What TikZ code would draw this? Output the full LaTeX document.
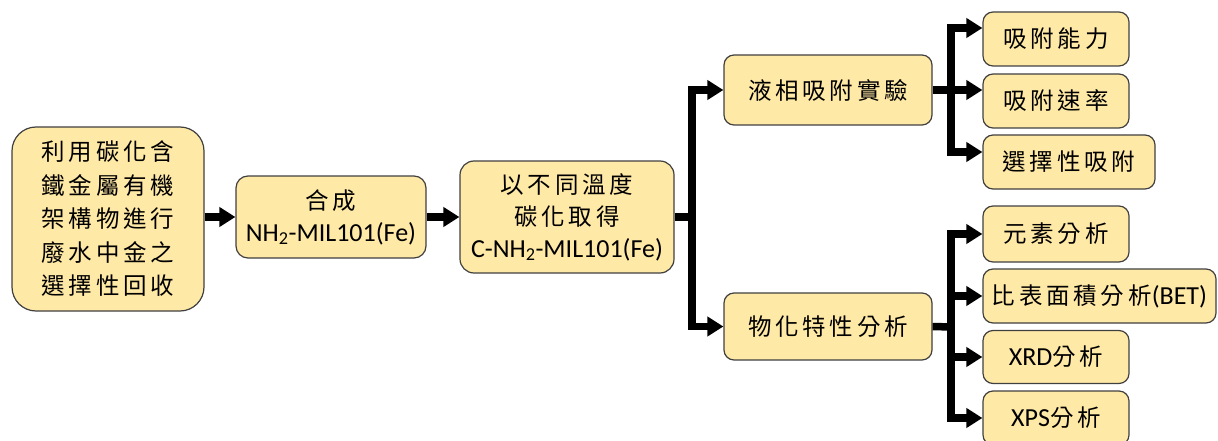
\documentclass[tikz,border=0pt]{standalone}
\usepackage{fontspec}
\setmainfont{Carlito}
\newfontfamily\cjk[LetterSpace=16]{Noto Sans CJK TC}
\usetikzlibrary{arrows.meta}
\definecolor{boxfill}{RGB}{255,233,166}
\definecolor{boxline}{RGB}{64,64,64}
\newcommand\latn[1]{{\rmfamily\fontsize{26}{32}\selectfont #1}}
\begin{document}
\begin{tikzpicture}[x=1pt,y=-1pt,
  box/.style={draw=boxline, line width=1.2pt, fill=boxfill, rounded corners=10pt,
    align=center, inner sep=0pt, font=\cjk\fontsize{23.5}{32}\selectfont},
  conn/.style={line width=7.5pt, -{Triangle[length=16pt,width=19pt]}},
  plainline/.style={line width=7.5pt}]
\useasboundingbox (0,0) rectangle (1218,441);
\clip (0,0) rectangle (1218,441);

\node[box, rounded corners=24pt, minimum width=192pt, minimum height=184pt,
  font=\cjk\fontsize{23.5}{33.5}\selectfont] (n1) at (108,219)
  {利用碳化含\\鐵金屬有機\\架構物進行\\廢水中金之\\選擇性回收};
\node[box, rounded corners=12pt, minimum width=190pt, minimum height=82pt] (n2) at (331,217)
  {合成\\\latn{NH\textsubscript{2}-MIL101(Fe)}};
\node[box, rounded corners=14pt, minimum width=214pt, minimum height=112pt] (n3) at (567,217)
  {以不同溫度\\碳化取得\\\latn{C-NH\textsubscript{2}-MIL101(Fe)}};
\node[box, minimum width=208pt, minimum height=70pt] (a) at (828,90) {液相吸附實驗};
\node[box, minimum width=208pt, minimum height=67pt] (b) at (828,326.5) {物化特性分析};

\node[box, minimum width=146pt, minimum height=54pt] (r1) at (1056,39) {吸附能力};
\node[box, minimum width=146pt, minimum height=54pt] (r2) at (1056,101) {吸附速率};
\node[box, minimum width=172pt, minimum height=54pt] (r3) at (1069,162) {選擇性吸附};
\node[box, minimum width=146pt, minimum height=56pt] (r4) at (1056,234) {元素分析};
\node[box, minimum width=233pt, minimum height=54pt] (r5) at (1099.5,296) {比表面積分析\latn{(BET)}};
\node[box, minimum width=146pt, minimum height=53pt] (r6) at (1056,357) {\latn{XRD}分析};
\node[box, minimum width=146pt, minimum height=54pt] (r7) at (1056,418) {\latn{XPS}分析};

\coordinate (j1) at (692,217);
\coordinate (j2) at (951,90);
\coordinate (j3) at (951,327);

\draw[conn] (n1.east |- n2.west) -- (n2.west);
\draw[conn] (n2.east) -- (n3.west);
\draw[plainline] (n3.east) -- (j1);
\draw[conn] (j1) |- (a.west);
\draw[conn] (j1) |- (b.west);

\draw[plainline] (a.east) -- (j2);
\draw[conn] (j2) |- ([yshift=11pt]r1.west);
\draw[conn] (j2) |- ([yshift=11pt]r2.west);
\draw[conn] (j2) |- ([yshift=10pt]r3.west);

\draw[plainline] (b.east) -- (j3);
\draw[conn] (j3) |- (r4.west);
\draw[conn] (j3) |- (r5.west);
\draw[conn] (j3) |- (r6.west);
\draw[conn] (j3) |- (r7.west);
\end{tikzpicture}
\end{document}
